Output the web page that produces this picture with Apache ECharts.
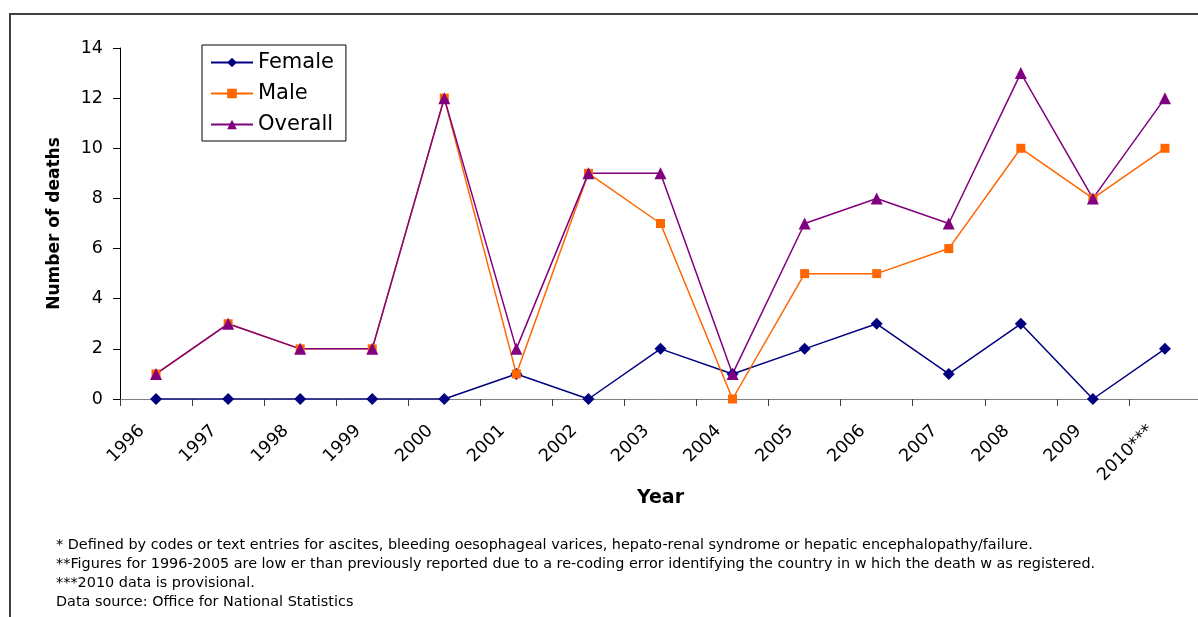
<!DOCTYPE html>
<html>
<head>
<meta charset="utf-8">
<script src="https://cdn.jsdelivr.net/npm/echarts@6/dist/echarts.min.js"></script>
<style>
html,body{margin:0;padding:0;background:#fff;}
#chart{width:1198px;height:617px;}
</style>
</head>
<body>
<div id="chart"></div>
<script>
var years = ['1996','1997','1998','1999','2000','2001','2002','2003','2004','2005','2006','2007','2008','2009','2010***'];
var female = [0,0,0,0,0,1,0,2,1,2,3,1,3,0,2];
var male = [1,3,2,2,12,1,9,7,0,5,5,6,10,8,10];
var overall = [1,3,2,2,12,2,9,9,1,7,8,7,13,8,12];
var yTicks = {min:0, max:14, interval:2};
var footnotes = [
  '* Defined by codes or text entries for ascites, bleeding oesophageal varices, hepato-renal syndrome or hepatic encephalopathy/failure.',
  '**Figures for 1996-2005 are low er than previously reported due to a re-coding error identifying the country in w hich the death w as registered.',
  '***2010 data is provisional.',
  'Data source: Office for National Statistics'
];

var FONT = 'DejaVu Sans';
var chart = echarts.init(document.getElementById('chart'), null, {renderer:'canvas'});

var graphics = [{
  type:'rect', silent:true, z:-1,
  shape:{x:10, y:14, width:1400, height:800},
  style:{fill:'none', stroke:'#404040', lineWidth:2}
}];
footnotes.forEach(function(t,i){
  graphics.push({
    type:'text', left:56, top:538 + i*19,
    style:{text:t, fontFamily:FONT, fontSize:14.4, fill:'#000'}
  });
});

function lineSeries(name, data, color, symbol, size){
  return {
    name:name, type:'line', data:data,
    symbol:symbol, symbolSize:size, showSymbol:true,
    itemStyle:{color:color},
    lineStyle:{color:color, width:1.5},
    emphasis:{disabled:true}
  };
}

chart.setOption({
  animation:false,
  backgroundColor:'#fff',
  textStyle:{fontFamily:FONT},
  grid:{left:120, top:48, width:1081, height:351, outerBoundsMode:'none', containLabel:false},
  legend:{
    orient:'vertical', left:202, top:45,
    padding:[7,12,6,8],
    borderColor:'#000', borderWidth:1,
    itemWidth:42, itemHeight:12, itemGap:10,
    textStyle:{fontFamily:FONT, fontSize:21, color:'#000', lineHeight:21},
    data:['Female','Male','Overall']
  },
  xAxis:{
    type:'category', data:years, boundaryGap:true,
    name:'Year', nameLocation:'middle', nameGap:90, nameMoveOverlap:false,
    nameTextStyle:{fontFamily:FONT, fontSize:19, fontWeight:'bold', color:'#000'},
    axisLine:{lineStyle:{color:'#808080', width:1}},
    axisTick:{show:true, length:7, lineStyle:{color:'#404040'}},
    axisLabel:{rotate:45, interval:0, fontFamily:FONT, fontSize:17.5, color:'#000', margin:15, padding:[0,20,0,0]},
    splitLine:{show:false}
  },
  yAxis:{
    type:'value', min:yTicks.min, max:yTicks.max, interval:yTicks.interval,
    name:'Number of deaths', nameLocation:'middle', nameGap:57, nameRotate:90, nameMoveOverlap:false,
    nameTextStyle:{fontFamily:FONT, fontSize:17, fontWeight:'bold', color:'#000'},
    axisLine:{show:true, lineStyle:{color:'#000', width:1}},
    axisTick:{show:true, length:7, lineStyle:{color:'#000'}},
    axisLabel:{fontFamily:FONT, fontSize:17.5, color:'#000', margin:17},
    splitLine:{show:false}
  },
  series:[
    lineSeries('Female', female, '#000080', 'diamond', 12),
    lineSeries('Male', male, '#FF6600', 'rect', 9),
    lineSeries('Overall', overall, '#800080', 'triangle', 12)
  ],
  graphic:graphics
});
</script>
</body>
</html>
